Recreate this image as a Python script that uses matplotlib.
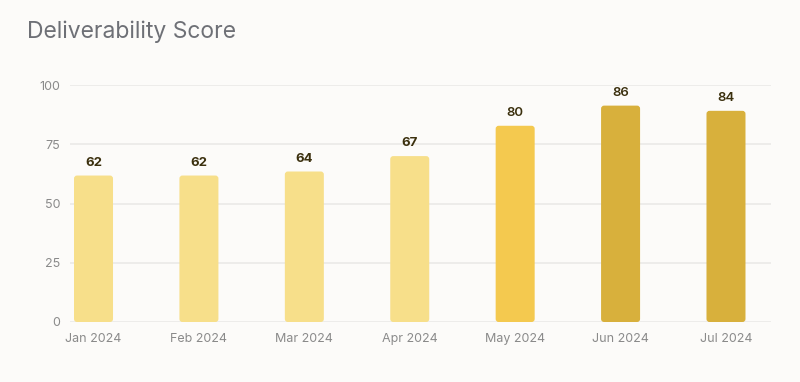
import matplotlib
matplotlib.use("Agg")
import matplotlib.pyplot as plt
from matplotlib.patches import FancyBboxPatch

plt.rcParams["font.family"] = ["Inter", "DejaVu Sans"]

BG = "#fcfbf9"
GRID = "#ebeae8"
TICK = "#8a8a8a"
TITLE = "#6e7076"
LABEL = "#3b300e"

months = ["Jan 2024", "Feb 2024", "Mar 2024", "Apr 2024", "May 2024", "Jun 2024", "Jul 2024"]
scores = [62, 62, 64, 67, 80, 86, 84]
# drawn bar heights (not identical to the printed scores)
bar_heights = [61.8, 61.8, 63.5, 70, 82.8, 91.3, 89.1]
bar_colors = ["#f7df8a", "#f7df8a", "#f7df8a", "#f7df8a", "#f4c94f", "#d8b03c", "#d8b03c"]
label_weights = ["bold", "bold", "bold", "bold", "semibold", "semibold", "semibold"]

fig = plt.figure(figsize=(8, 3.82), dpi=100, facecolor=BG)
ax = fig.add_axes([70 / 800, 1 - 322 / 382, 701 / 800, (322 - 85) / 382])
ax.set_facecolor(BG)

x = list(range(len(months)))
bars = ax.bar(x, bar_heights, width=0.37, color=bar_colors)

# swap square bars for rounded ones (radius ~3px)
px_x = 701 / (6.427 + 0.223)
px_y = 237 / 100
for b, c in zip(bars, bar_colors):
    b.remove()
    r = 3 / px_x
    ax.add_patch(FancyBboxPatch((b.get_x(), 0), b.get_width(), b.get_height(),
                                boxstyle=f"round,pad=0,rounding_size={r}",
                                mutation_aspect=px_x / px_y,
                                fc=c, ec="none", zorder=3))

for xi, h, s, w in zip(x, bar_heights, scores, label_weights):
    ax.annotate(str(s), (xi, h), xytext=(0, 13), textcoords="offset pixels",
                ha="center", va="center", fontsize=9.5, fontweight=w, color=LABEL)

ax.set_xlim(-0.223, 6.427)
ax.set_ylim(0, 100)
ax.set_yticks([0, 25, 50, 75, 100])
ax.grid(axis="y", color=GRID, lw=1.2, zorder=0)
ax.set_axisbelow(True)
for sp in ax.spines.values():
    sp.set_visible(False)
ax.tick_params(length=0, colors=TICK, labelsize=9)
ax.tick_params(axis="y", pad=7)
ax.tick_params(axis="x", pad=8)
ax.set_xticks(x)
ax.set_xticklabels(months)

fig.text(27 / 800, 1 - 32 / 382, "Deliverability Score", fontsize=16.5, color=TITLE,
         ha="left", va="center")

fig.savefig("out.png", dpi=100, facecolor=BG)
